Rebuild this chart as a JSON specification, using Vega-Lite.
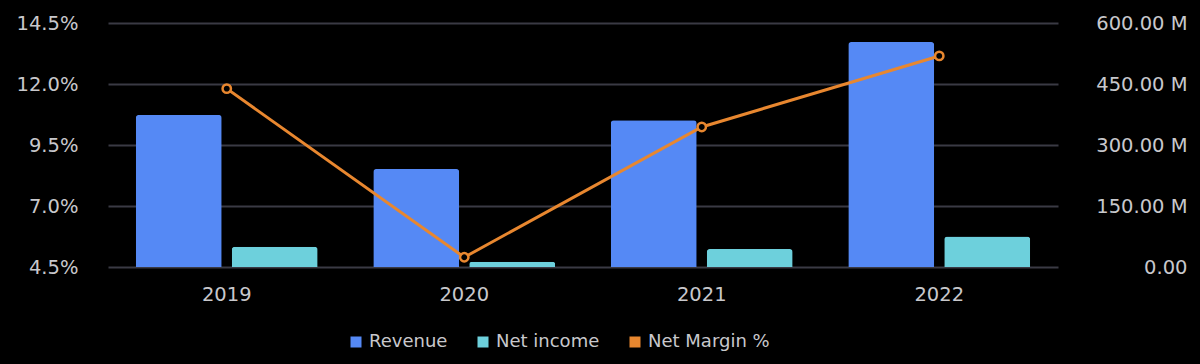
{
  "$schema": "https://vega.github.io/schema/vega-lite/v6.json",
  "autosize": {"type": "none"},
  "width": 950,
  "height": 244,
  "padding": {"left": 108, "top": 23, "right": 142, "bottom": 97},
  "background": "#000000",
  "config": {
    "view": {"stroke": null},
    "font": "DejaVu Sans",
    "axis": {"labelColor": "#c8c8cc", "labelFontSize": 19.5, "labelFont": "DejaVu Sans", "titleColor": "#c8c8cc"},
    "legend": {"labelColor": "#c8c8cc", "labelFontSize": 18, "labelFont": "DejaVu Sans"}
  },
  "datasets": {
    "bars": [
      {"year": "2019", "series": "Revenue", "value": 374000000},
      {"year": "2019", "series": "Net income", "value": 50000000},
      {"year": "2020", "series": "Revenue", "value": 241000000},
      {"year": "2020", "series": "Net income", "value": 13000000},
      {"year": "2021", "series": "Revenue", "value": 361000000},
      {"year": "2021", "series": "Net income", "value": 44000000},
      {"year": "2022", "series": "Revenue", "value": 553000000},
      {"year": "2022", "series": "Net income", "value": 75000000}
    ],
    "margin": [
      {"year": "2019", "margin": 11.81},
      {"year": "2020", "margin": 4.9},
      {"year": "2021", "margin": 10.24},
      {"year": "2022", "margin": 13.15}
    ]
  },
  "layer": [
    {
      "data": {"name": "bars"},
      "mark": {"type": "bar", "cornerRadiusTopLeft": 3, "cornerRadiusTopRight": 3},
      "encoding": {
        "x": {
          "field": "year", "type": "nominal",
          "scale": {"paddingInner": 0.234, "paddingOuter": 0.117},
          "axis": {"title": null, "ticks": false, "domain": false, "labelAngle": 0, "labelPadding": 18, "grid": false}
        },
        "xOffset": {"field": "series", "type": "nominal", "sort": ["Revenue", "Net income"], "scale": {"paddingInner": 0.104, "paddingOuter": 0}},
        "y": {
          "field": "value", "type": "quantitative",
          "scale": {"domain": [0, 600000000], "nice": false, "zero": true},
          "axis": {
            "orient": "right", "title": null, "ticks": false, "domain": false, "grid": false,
            "values": [0, 150000000, 300000000, 450000000, 600000000],
            "labelExpr": "datum.value == 0 ? '0.00' : format(datum.value / 1000000, '.2f') + ' M'",
            "labelAlign": "right", "labelPadding": 129
          }
        },
        "color": {
          "field": "series", "type": "nominal",
          "scale": {"domain": ["Revenue", "Net income", "Net Margin %"], "range": ["#5589F5", "#6DD0DC", "#E8872F"]},
          "legend": {
            "title": null, "orient": "none", "direction": "horizontal",
            "legendX": 239, "legendY": 310,
            "symbolType": "square", "symbolSize": 121, "symbolStrokeWidth": 0,
            "labelOffset": 4, "columnPadding": 26
          }
        }
      }
    },
    {
      "data": {"name": "margin"},
      "mark": {
        "type": "line", "strokeWidth": 3,
        "point": {"filled": false, "fill": "#000000", "fillOpacity": 1, "strokeWidth": 2.5, "size": 70, "opacity": 1, "color": "#E8872F"}
      },
      "encoding": {
        "x": {"field": "year", "type": "nominal"},
        "y": {
          "field": "margin", "type": "quantitative",
          "scale": {"domain": [4.5, 14.5], "nice": false, "zero": false},
          "axis": {
            "orient": "left", "title": null, "ticks": false, "domain": false,
            "grid": true, "gridColor": "#3a3a44", "gridWidth": 2,
            "values": [4.5, 7, 9.5, 12, 14.5],
            "labelExpr": "format(datum.value, '.1f') + '%'",
            "labelPadding": 30
          }
        },
        "color": {"datum": "Net Margin %"}
      }
    }
  ],
  "resolve": {"scale": {"y": "independent"}}
}
